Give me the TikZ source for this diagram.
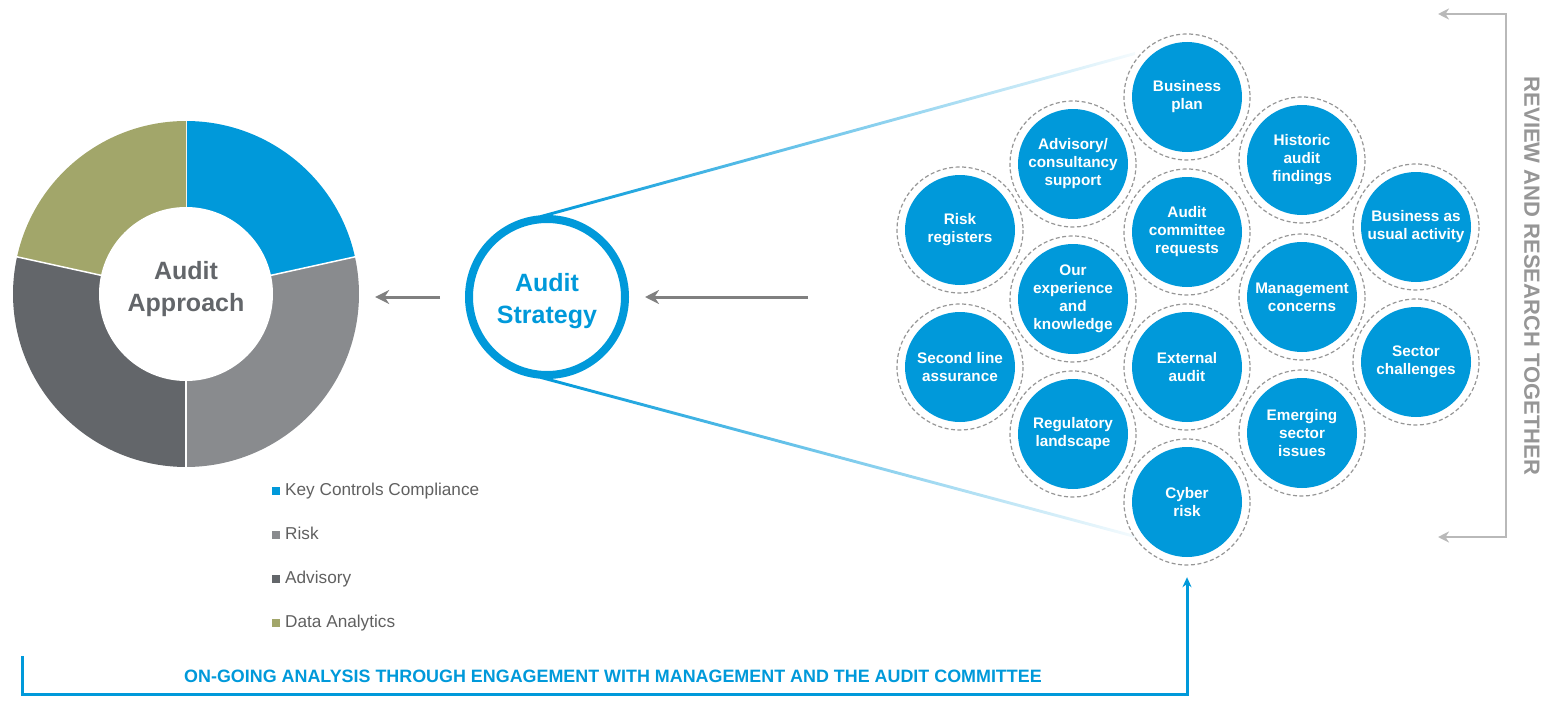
\documentclass[tikz,border=0pt]{standalone}
\usepackage{fontspec}
\setmainfont{Liberation Sans}
\usetikzlibrary{arrows.meta,calc}

\definecolor{cBlue}{RGB}{0,153,218}
\definecolor{cRisk}{RGB}{137,139,142}
\definecolor{cAdv}{RGB}{99,102,106}
\definecolor{cData}{RGB}{162,166,106}
\definecolor{cArrow}{RGB}{128,128,128}
\definecolor{cLegend}{RGB}{96,96,96}
\definecolor{cRing}{RGB}{150,150,150}
\definecolor{cBracket}{RGB}{185,185,185}

\begin{document}
\begin{tikzpicture}[x=1pt,y=-1pt,
    bubble/.style={circle, fill=cBlue, text=white, minimum size=110, inner sep=0,
      align=center, font=\fontsize{15.3}{18}\selectfont\bfseries},
    ring/.style={cRing, line width=1.2, dash pattern=on 4pt off 2.5pt},
    flowarrow/.style={cArrow, line width=3, -{Stealth[length=14pt,width=14pt]}},
    legendtext/.style={anchor=base west, inner sep=0, text=cLegend,
      font=\fontsize{17.2}{20}\selectfont}]
  \useasboundingbox (0,0) rectangle (1551,701);

  % Donut
  \foreach \a/\b/\c in {-90/-12.4/cBlue, -12.4/90/cRisk, 90/192.4/cAdv, 192.4/270/cData}{
    \fill[\c] (186,294) -- ++(\a:173) arc[start angle=\a, end angle=\b, radius=173] -- cycle;
    \draw[white, line width=1.5] (186,294) -- ++(\a:174);
  }
  \node[circle, minimum size=346, inner sep=0] (donut) at (186,294) {};
  \node[circle, fill=white, minimum size=174, inner sep=0, align=center, text=cAdv, text depth=15pt,
    font=\fontsize{25}{32}\selectfont\bfseries] (approach) at (186,294) {Audit\\Approach};

  % Legend
  \foreach \y/\c/\lbl/\n in {491/cBlue/Key Controls Compliance/1, 535/cRisk/Risk/2,
      579/cAdv/Advisory/3, 623/cData/Data Analytics/4}{
    \fill[\c] (272,\y-4) rectangle ++(8,8);
    \node[legendtext] (leg\n) at (285,\y+4.5) {\lbl};
  }

  % Audit strategy
  \node[circle, draw=cBlue, line width=8, minimum size=156, inner sep=0, align=center, text height=59pt,
    text=cBlue, font=\fontsize{25}{32}\selectfont\bfseries] (strat) at (547,297) {Audit\\Strategy};
  \coordinate (outflow) at ([xshift=16]donut.east);
  \draw[flowarrow] ([xshift=-25]strat.west) -- (outflow |- strat.west);
  \coordinate (inflow) at (808,297);
  \draw[flowarrow] (inflow) -- ([xshift=16]strat.east);

  % Fading lines
  \coordinate (fadetop) at (1135,52);
  \coordinate (fadebot) at (1135,538);
  \shade[left color=cBlue, middle color=cBlue!55!white, right color=cBlue!4!white]
    (strat.95) -- (fadetop) -- ([yshift=-3]fadetop) -- ([yshift=-3]strat.95) -- cycle;
  \shade[left color=cBlue, middle color=cBlue!55!white, right color=cBlue!4!white]
    (strat.-95) -- (fadebot) -- ([yshift=3]fadebot) -- ([yshift=3]strat.-95) -- cycle;

  % Bubbles
  \node[bubble] (b1) at (1187,97) {Business\\plan};
  \node[bubble] (b2) at (1073,164) {Advisory/\\consultancy\\support};
  \node[bubble] (b3) at (1302,160) {Historic\\audit\\findings};
  \node[bubble] (b4) at (960,230) {Risk\\registers};
  \node[bubble] (b5) at (1187,232) {Audit\\committee\\requests};
  \node[bubble] (b6) at (1416,227) {Business as\\usual activity};
  \node[bubble] (b7) at (1073,299) {Our\\experience\\and\\knowledge};
  \node[bubble] (b8) at (1302,297) {Management\\concerns};
  \node[bubble] (b9) at (960,367) {Second line\\assurance};
  \node[bubble] (b10) at (1187,367) {External\\audit};
  \node[bubble] (b11) at (1416,362) {Sector\\challenges};
  \node[bubble] (b12) at (1073,434) {Regulatory\\landscape};
  \node[bubble] (b13) at (1302,433) {Emerging\\sector\\issues};
  \node[bubble] (b14) at (1187,502) {Cyber\\risk};
  \foreach \n in {1,...,14}
    \draw[ring] (b\n.center) circle[radius=63];

  % Review loop
  \coordinate (revtop) at (1438,14);
  \coordinate (revbot) at (1438,537);
  \draw[cBracket, line width=2.5, {Stealth[length=11pt,width=11pt]}-{Stealth[length=11pt,width=11pt]}]
    (revtop) -- (1506,14) -- (1506,537) -- (revbot);
  \node[rotate=-90, text=cRing, font=\fontsize{22}{26}\selectfont\bfseries] (review)
    at (1532,276) {REVIEW AND RESEARCH TOGETHER};

  % On-going loop
  \coordinate (loopstart) at (22,656);
  \coordinate (loopcorner) at (1187,694);
  \draw[cBlue, line width=3, -{Stealth[length=10pt,width=9pt]}]
    (loopstart) |- (loopcorner) -- ([yshift=-20]b14.south);
  \node[text=cBlue, font=\fontsize{17.9}{20}\selectfont\bfseries] (ongoing) at (613,676)
    {ON-GOING ANALYSIS THROUGH ENGAGEMENT WITH MANAGEMENT AND THE AUDIT COMMITTEE};
\end{tikzpicture}
\end{document}
